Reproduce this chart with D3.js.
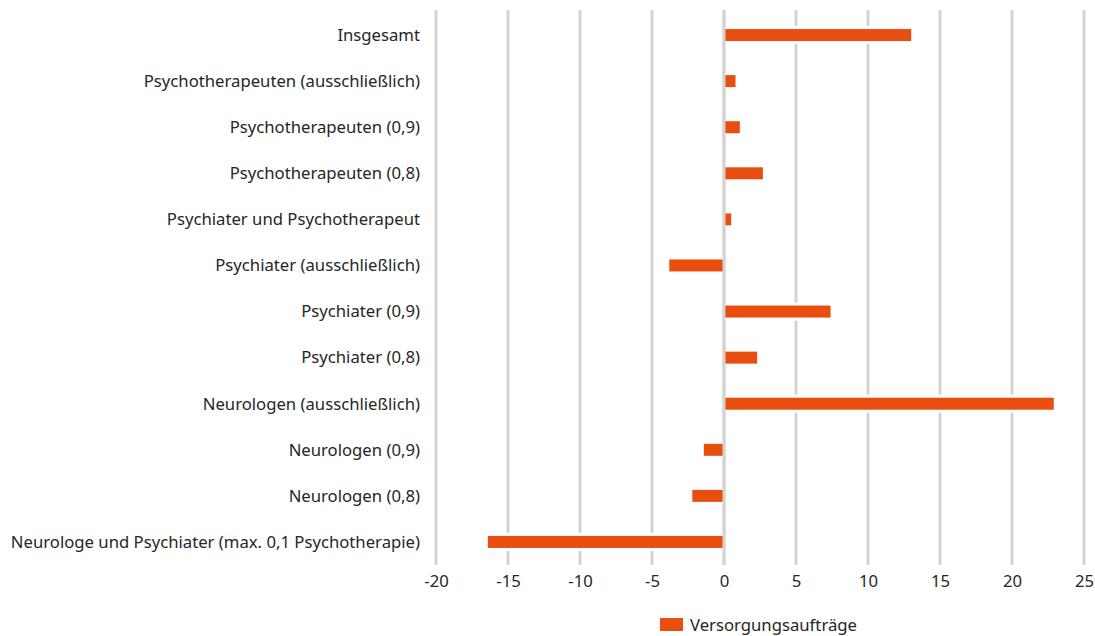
<!DOCTYPE html>
<html>
<head>
<meta charset="utf-8">
<script src="https://cdn.jsdelivr.net/npm/d3@7"></script>
<style>
  body { margin: 0; background: #fff; }
  text { font-family: "Noto Sans", "Open Sans", sans-serif; fill: #262626; }
</style>
</head>
<body>
<div id="graphic"></div>
<script>
// Kategorien (von oben nach unten)
let categories = [
  "Insgesamt",
  "Psychotherapeuten (ausschließlich)",
  "Psychotherapeuten (0,9)",
  "Psychotherapeuten (0,8)",
  "Psychiater und Psychotherapeut",
  "Psychiater (ausschließlich)",
  "Psychiater (0,9)",
  "Psychiater (0,8)",
  "Neurologen (ausschließlich)",
  "Neurologen (0,9)",
  "Neurologen (0,8)",
  "Neurologe und Psychiater (max. 0,1 Psychotherapie)"
];

// Werte der Reihe "Versorgungsaufträge"
let values = [13.0, 0.8, 1.1, 2.7, 0.5, -3.8, 7.4, 2.3, 22.9, -1.4, -2.2, -16.4];

let seriesName = "Versorgungsaufträge";
let tickValues = [-20, -15, -10, -5, 0, 5, 10, 15, 20, 25];

let largeur = 1095, hauteur = 636;
let barColor = "#e84e0f";
let gridColor = "#d3d3d3";
let fontSize = "16.7px";

let svg = d3.select("#graphic")
  .append("svg")
  .attr("width", largeur)
  .attr("height", hauteur);

// Skalen
let x = d3.scaleLinear()
  .domain([-20, 25])
  .range([436, 1084]);

let y = d3.scaleBand()
  .domain(categories)
  .range([12, 565])
  .paddingInner(0)
  .paddingOuter(0);

let barH = 12;
let gap = 3; // weißer Rand um die Balken

// Gitterlinien
svg.append("g")
  .selectAll("line")
  .data(tickValues)
  .enter()
  .append("line")
    .attr("x1", d => x(d))
    .attr("x2", d => x(d))
    .attr("y1", 10)
    .attr("y2", 565)
    .attr("stroke", gridColor)
    .attr("stroke-width", 3);

let barY = (d, i) => y(categories[i]) + y.bandwidth() / 2 - barH / 2;

// weißer Hintergrund der Balken, unterbricht die Gitterlinien
svg.append("g")
  .selectAll("rect")
  .data(values)
  .enter()
  .append("rect")
    .attr("x", d => x(Math.min(0, d)) - 1)
    .attr("y", (d, i) => barY(d, i) - gap)
    .attr("width", d => Math.abs(x(d) - x(0)) + 2)
    .attr("height", barH + 2 * gap)
    .attr("fill", "#fff");

// Balken
svg.append("g")
  .selectAll("rect")
  .data(values)
  .enter()
  .append("rect")
    .attr("x", d => x(Math.min(0, d)))
    .attr("y", barY)
    .attr("width", d => Math.abs(x(d) - x(0)))
    .attr("height", barH)
    .attr("fill", barColor);

// Nulllinie obenauf
svg.append("line")
  .attr("x1", x(0)).attr("x2", x(0))
  .attr("y1", 10).attr("y2", 565)
  .attr("stroke", gridColor)
  .attr("stroke-width", 3);

// Kategorienbeschriftung
svg.append("g")
  .selectAll("text")
  .data(categories)
  .enter()
  .append("text")
    .attr("x", 420)
    .attr("y", d => y(d) + y.bandwidth() / 2)
    .attr("dy", "0.35em")
    .attr("text-anchor", "end")
    .style("font-size", fontSize)
    .text(d => d);

// x-Achse (nur Beschriftung), Bindestrich als Minus wie im Original
let xAxis = d3.axisBottom(x)
  .tickValues(tickValues)
  .tickSize(0)
  .tickPadding(0)
  .tickFormat(d => String(d));

let gx = svg.append("g")
  .attr("transform", "translate(0, 575)")
  .call(xAxis);
gx.select(".domain").remove();
gx.selectAll("text")
  .style("font-size", fontSize)
  .style("font-family", "'Noto Sans', 'Open Sans', sans-serif")
  .attr("fill", "#262626");

// Legende
let legend = svg.append("g").attr("transform", "translate(660, 618)");
legend.append("rect")
  .attr("width", 23)
  .attr("height", 13)
  .attr("fill", barColor);
legend.append("text")
  .attr("x", 30)
  .attr("y", 7)
  .attr("dy", "0.35em")
  .style("font-size", fontSize)
  .text(seriesName);
</script>
</body>
</html>
